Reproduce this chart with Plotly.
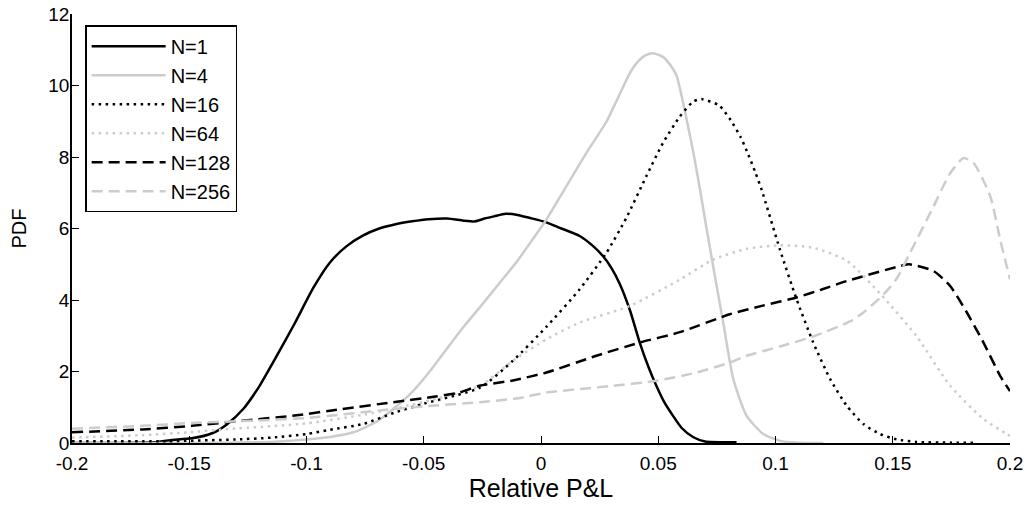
import plotly.graph_objects as go

# ---- data ----
x_n1 = [-0.2, -0.18, -0.165, -0.158, -0.149, -0.14, -0.134, -0.127, -0.12, -0.113, -0.105, -0.097,
        -0.09, -0.083, -0.076, -0.069, -0.062, -0.055, -0.048, -0.04, -0.033, -0.028, -0.024, -0.02,
        -0.015, -0.01, -0.005, 0.002, 0.008, 0.0165, 0.022, 0.0264, 0.030, 0.0336, 0.038, 0.0421,
        0.046, 0.0492, 0.0525, 0.0563, 0.06, 0.065, 0.07, 0.0834]
y_n1 = [0.0, 0.0, 0.02, 0.08, 0.13, 0.28, 0.52, 0.95, 1.6, 2.4, 3.35, 4.35,
        5.05, 5.5, 5.8, 6.0, 6.12, 6.2, 6.26, 6.28, 6.22, 6.2, 6.28, 6.34,
        6.41, 6.38, 6.3, 6.18, 6.02, 5.79, 5.52, 5.23, 4.9, 4.45, 3.7, 2.81,
        2.1, 1.6, 1.15, 0.76, 0.42, 0.16, 0.04, 0.02]

x_n4 = [-0.2, -0.15, -0.12, -0.11, -0.1, -0.09, -0.08, -0.07, -0.063, -0.055, -0.0475,
        -0.04, -0.033, -0.026, -0.018, -0.01, -0.003, 0.0023, 0.0108, 0.0193, 0.028, 0.0335,
        0.0375, 0.0407, 0.0445, 0.0478, 0.052, 0.0556, 0.0579, 0.06, 0.0621, 0.065, 0.0678,
        0.0706, 0.0734, 0.0777, 0.082, 0.0877, 0.0948, 0.1019, 0.11, 0.1204]
y_n4 = [0.0, 0.0, 0.02, 0.05, 0.1, 0.17, 0.3, 0.6, 0.95, 1.42, 2.0,
        2.65, 3.25, 3.8, 4.45, 5.1, 5.75, 6.25, 7.18, 8.11, 9.0, 9.75,
        10.3, 10.62, 10.84, 10.9, 10.8, 10.53, 10.26, 9.7, 9.05, 8.12, 7.09,
        6.0, 4.95, 3.37, 1.79, 0.76, 0.25, 0.06, 0.01, 0.0]

x_n16 = [-0.2, -0.16, -0.13, -0.115, -0.1, -0.09, -0.076, -0.062, -0.05, -0.026, -0.012, 0.0023,
         0.0165, 0.0279, 0.0364, 0.0449, 0.052, 0.0592, 0.0649, 0.0684, 0.076, 0.0809, 0.0851,
         0.0884, 0.0914, 0.0942, 0.1019, 0.109, 0.1161, 0.1233, 0.1304, 0.1375, 0.1446, 0.1517,
         0.16, 0.175, 0.186]
y_n16 = [0.05, 0.05, 0.1, 0.15, 0.25, 0.37, 0.53, 0.86, 1.1, 1.55, 2.3, 3.25,
         4.3, 5.32, 6.3, 7.46, 8.39, 9.13, 9.55, 9.62, 9.44, 9.03, 8.56,
         8.07, 7.57, 7.06, 5.41, 4.02, 2.81, 1.79, 1.04, 0.53, 0.25, 0.1,
         0.03, 0.01, 0.01]

x_n64 = [-0.2, -0.17, -0.15, -0.133, -0.1, -0.075, -0.05, -0.026, -0.012, 0.0023, 0.0165, 0.0378,
         0.0592, 0.0734, 0.0877, 0.1019, 0.1161, 0.1304, 0.145, 0.16, 0.1745, 0.1887, 0.1987, 0.2]
y_n64 = [0.15, 0.22, 0.3, 0.39, 0.55, 0.8, 1.15, 1.6, 2.3, 2.9, 3.37, 3.83,
         4.57, 5.13, 5.43, 5.53, 5.46, 5.1, 4.15, 3.0, 1.6, 0.67, 0.25, 0.2]

x_n128 = [-0.2, -0.17, -0.149, -0.125, -0.106, -0.085, -0.0632, -0.045, -0.035, -0.0262, -0.012,
          0.0023, 0.0236, 0.0421, 0.0592, 0.0805, 0.095, 0.109, 0.12, 0.1304, 0.1531, 0.157,
          0.1674, 0.1745, 0.1816, 0.1887, 0.1958, 0.2]
y_n128 = [0.3, 0.38, 0.48, 0.64, 0.76, 0.95, 1.14, 1.3, 1.41, 1.6, 1.75,
          1.97, 2.44, 2.81, 3.1, 3.6, 3.85, 4.07, 4.3, 4.53, 4.95, 5.0,
          4.81, 4.39, 3.65, 2.81, 1.88, 1.45]

x_n256 = [-0.2, -0.17, -0.149, -0.125, -0.1, -0.063, -0.045, -0.026, -0.01, 0.0023, 0.0307,
          0.0492, 0.0663, 0.0805, 0.0877, 0.1019, 0.1161, 0.1318, 0.1375, 0.146, 0.1517, 0.1574,
          0.1674, 0.1745, 0.1802, 0.1845, 0.1916, 0.1958, 0.2]
y_n256 = [0.4, 0.48, 0.56, 0.62, 0.7, 0.95, 1.05, 1.14, 1.25, 1.41, 1.6,
          1.74, 1.97, 2.25, 2.44, 2.7, 2.98, 3.4, 3.65, 4.15, 4.6, 5.32,
          6.62, 7.55, 7.97, 7.83, 6.9, 5.69, 4.58]

names = ["N=1", "N=4", "N=16", "N=64", "N=128", "N=256"]
xs = [x_n1, x_n4, x_n16, x_n64, x_n128, x_n256]
ys = [y_n1, y_n4, y_n16, y_n64, y_n128, y_n256]

x_ticks = [-0.2, -0.15, -0.1, -0.05, 0, 0.05, 0.1, 0.15, 0.2]
x_tick_text = ["-0.2", "-0.15", "-0.1", "-0.05", "0", "0.05", "0.1", "0.15", "0.2"]
y_ticks = [0, 2, 4, 6, 8, 10, 12]

BLACK = "#000000"
GRAY = "#cccccc"
DOT = "2.5px,4.5px"
DASH = "11px,6px"
styles = [
    dict(color=BLACK, dash="solid"),
    dict(color=GRAY, dash="solid"),
    dict(color=BLACK, dash=DOT),
    dict(color=GRAY, dash=DOT),
    dict(color=BLACK, dash=DASH),
    dict(color=GRAY, dash=DASH),
]

FONT = "Liberation Sans, Arial, sans-serif"

fig = go.Figure()
for name, x, y, st in zip(names, xs, ys, styles):
    fig.add_trace(go.Scatter(
        x=x, y=y, name=name, mode="lines",
        line=dict(color=st["color"], dash=st["dash"], width=2.5, shape="spline", smoothing=0.6),
    ))

fig.update_layout(
    width=1027, height=506,
    margin=dict(l=72, r=17, t=14, b=63),
    paper_bgcolor="white", plot_bgcolor="white",
    font=dict(family=FONT, color="black", size=19),
    showlegend=True,
    legend=dict(
        x=0.014, y=0.974, xanchor="left", yanchor="top",
        bordercolor="black", borderwidth=1.5, bgcolor="white",
        font=dict(family=FONT, size=20, color="black"),
        itemwidth=74, tracegroupgap=0,
    ),
)
fig.update_xaxes(
    range=[-0.2, 0.2], tickvals=x_ticks, ticktext=x_tick_text, automargin=False,
    showgrid=False, zeroline=False, showline=True, linecolor="black", linewidth=1.5,
    ticks="inside", ticklen=7, tickwidth=1, tickcolor="black", ticklabelstandoff=2,
    ticklabeloverflow="allow",
    tickfont=dict(family=FONT, size=19, color="black"),
    title=dict(text="Relative P&L", font=dict(family=FONT, size=25, color="black"), standoff=6),
)
fig.update_yaxes(
    range=[0, 12], tickvals=y_ticks, automargin=False,
    showgrid=False, zeroline=False, showline=True, linecolor="black", linewidth=1.5,
    ticks="inside", ticklen=7, tickwidth=1, tickcolor="black", ticklabelstandoff=-3,
    ticklabeloverflow="allow",
    tickfont=dict(family=FONT, size=19, color="black"),
    title=dict(text="PDF", font=dict(family=FONT, size=20, color="black"), standoff=16),
)

# remove the page's default 8px body margin so the figure sits at the window's corner
fig.write_html("out.html", config={"displayModeBar": False},
               post_script="document.body.style.margin='0';")
